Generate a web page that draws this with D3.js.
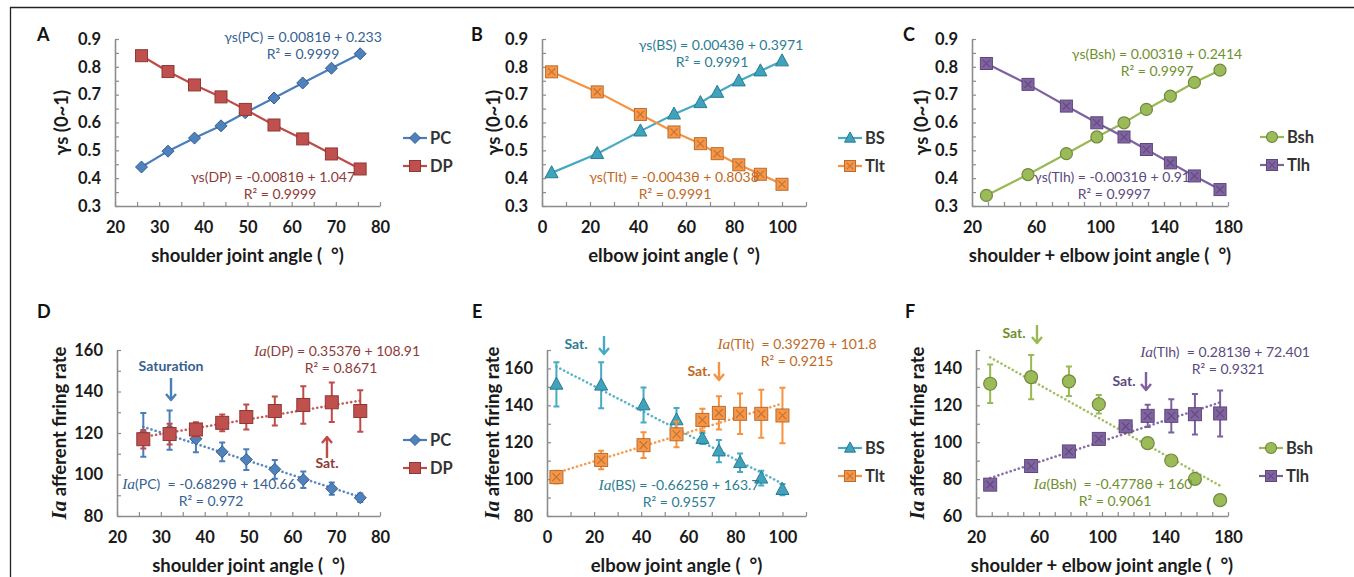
<!DOCTYPE html>
<html><head><meta charset="utf-8">
<script src="https://cdn.jsdelivr.net/npm/d3@7"></script>
<style>
body{margin:0;background:#fff;}
svg{display:block;}
text{font-family:Lato,"Open Sans",sans-serif;}
</style></head><body>
<svg id="c" width="1354" height="577"></svg>
<script>
// ---------- data ----------
const xA = [26, 32, 38, 44, 49.5, 56, 62.5, 69, 75.5];
const ysPC = [0.440, 0.497, 0.544, 0.588, 0.635, 0.688, 0.742, 0.795, 0.847];
const ysDP = [0.840, 0.783, 0.735, 0.692, 0.647, 0.591, 0.541, 0.487, 0.433];

const xB = [4, 23, 41, 55, 66, 73, 82, 91, 100];
const ysBS = [0.419, 0.488, 0.569, 0.630, 0.671, 0.708, 0.749, 0.785, 0.821];
const ysTlt = [0.782, 0.710, 0.629, 0.566, 0.524, 0.488, 0.448, 0.414, 0.378];

const xC = [29, 55, 79, 98, 115, 129, 144, 159, 175];
const ysBsh = [0.338, 0.413, 0.488, 0.548, 0.599, 0.647, 0.695, 0.744, 0.788];
const ysTlh = [0.812, 0.737, 0.659, 0.599, 0.548, 0.503, 0.455, 0.408, 0.359];

const iaPC = [119.1, 121.4, 117.2, 110.9, 107.2, 102.5, 97.5, 93.2, 88.8];
const iaPCerr = [10.5, 9.5, 6.5, 4.5, 5, 4.5, 4, 3, 2];
const iaDP = [117, 119.5, 121.7, 124.9, 127.7, 130.6, 133.5, 134.8, 130.6];
const iaDPerr = [4.5, 5, 3.5, 4, 6, 7, 9, 9.5, 10];

const iaBS = [151.4, 150.9, 140.2, 132.1, 122, 115.2, 108.9, 100.5, 94.3];
const iaBSerr = [12, 12.5, 9.5, 6.5, 3, 6, 5, 4, 3];
const iaTlt = [101.1, 110.4, 118.4, 124.3, 132.1, 135.9, 135.4, 135.4, 134.5];
const iaTlterr = [3.5, 5, 7, 7, 6, 9, 11, 13, 15];

const iaBsh = [131.7, 135.3, 133, 120.6, 108.5, 99.5, 90.1, 80.1, 68.6];
const iaBsherr = [10.5, 12, 8, 5, 1.5, 1, 1, 1, 1];
const iaTlh = [77, 87.1, 95, 101.8, 108.6, 114.3, 114.3, 115.2, 115.6];
const iaTlherr = [1.5, 1.5, 2, 2, 3, 6, 9, 11, 12.5];

// trend line end points
const trendPC = [[26, 123], [76, 88.8]];
const trendDP = [[26, 118.1], [76, 135.8]];
const trendBS = [[4, 161], [100, 97.5]];
const trendTlt = [[4, 103.4], [100, 141]];
const trendBsh = [[29, 146], [175, 76.4]];
const trendTlh = [[29, 80.6], [175, 121.6]];

// tick labels
const xTicksShoulder = [20, 30, 40, 50, 60, 70, 80];
const xTicksElbow = [0, 20, 40, 60, 80, 100];
const xTicksSum = [20, 60, 100, 140, 180];
const yTicksGamma = [0.3, 0.4, 0.5, 0.6, 0.7, 0.8, 0.9];
const yTicksD = [80, 100, 120, 140, 160];
const yTicksE = [80, 100, 120, 140, 160];
const yTicksF = [60, 80, 100, 120, 140];

// ---------- styles ----------
const C = {
  PC: {fill: "#4f81bd", stroke: "#385d8a", line: "#4a7ebb", text: "#365f91"},
  DP: {fill: "#c0504d", stroke: "#8c3836", line: "#be4b48", text: "#8e3b39"},
  BS: {fill: "#3fa3bd", stroke: "#2c7a8f", line: "#46aac5", text: "#2c7d92"},
  Tlt: {fill: "#f79646", stroke: "#b66d31", line: "#f69240", text: "#c0691e"},
  Bsh: {fill: "#9bbb59", stroke: "#71893f", line: "#98b954", text: "#6f8f2e"},
  Tlh: {fill: "#8064a2", stroke: "#5c4776", line: "#7d60a0", text: "#5c4a7e"}
};

const svg = d3.select("#c");
svg.append("line").attr("x1", 10).attr("x2", 1354).attr("y1", 7.5).attr("y2", 7.5)
  .attr("stroke", "#222").attr("stroke-width", 1.3);
svg.append("line").attr("x1", 10.5).attr("x2", 10.5).attr("y1", 7).attr("y2", 577)
  .attr("stroke", "#222").attr("stroke-width", 1.3);

function drawMarker(g, type, cx, cy, s, col) {
  const fill = col.fill, stroke = col.stroke;
  if (type === "diamond") {
    g.append("path").attr("d", `M${cx},${cy - s}L${cx + s},${cy}L${cx},${cy + s}L${cx - s},${cy}Z`)
      .attr("fill", fill).attr("stroke", stroke).attr("stroke-width", 1);
  } else if (type === "square" || type === "squareX") {
    g.append("rect").attr("x", cx - s).attr("y", cy - s).attr("width", 2 * s).attr("height", 2 * s)
      .attr("fill", fill).attr("stroke", stroke).attr("stroke-width", 1);
    if (type === "squareX") {
      const k = s * 0.6;
      g.append("path").attr("d", `M${cx - k},${cy - k}L${cx + k},${cy + k}M${cx - k},${cy + k}L${cx + k},${cy - k}`)
        .attr("stroke", stroke).attr("stroke-width", 1.2).attr("opacity", 0.8);
    }
  } else if (type === "triangle") {
    g.append("path").attr("d", `M${cx},${cy - s * 1.1}L${cx + s},${cy + s * 0.75}L${cx - s},${cy + s * 0.75}Z`)
      .attr("fill", fill).attr("stroke", stroke).attr("stroke-width", 1);
  } else if (type === "circle") {
    g.append("circle").attr("cx", cx).attr("cy", cy).attr("r", s)
      .attr("fill", fill).attr("stroke", stroke).attr("stroke-width", 1.2);
  }
}

function range(a, b, step) {
  const n = Math.round((b - a) / step);
  return d3.range(n + 1).map(i => +(a + i * step).toFixed(6));
}

function panel(p) {
  const g = svg.append("g");
  const x = d3.scaleLinear().domain(p.xd).range([p.x0, p.x1]);
  const y = d3.scaleLinear().domain(p.yd).range([p.y0, p.y1]);

  // axes
  const xMinor = range(p.xd[0], p.xd[1], p.xStep);
  const yMinor = range(p.yd[0], p.yd[1], p.yStep);
  const isMajor = (arr, d) => arr.some(v => Math.abs(v - d) < 1e-6);
  const ax = g.append("g").attr("transform", `translate(0,${p.y0})`)
    .call(d3.axisBottom(x).tickValues(xMinor).tickSizeInner(-4).tickSizeOuter(0).tickPadding(15)
      .tickFormat(d => isMajor(p.xMajor, d) ? String(d) : ""));
  const ay = g.append("g").attr("transform", `translate(${p.x0},0)`)
    .call(d3.axisLeft(y).tickValues(yMinor).tickSizeInner(-4).tickSizeOuter(0).tickPadding(14)
      .tickFormat(d => isMajor(p.yMajor, d) ? p.yfmt(d) : ""));
  [ax, ay].forEach(a => {
    a.select(".domain").attr("stroke", "#8c8c8c").attr("stroke-width", 1.6);
    a.selectAll(".tick line").attr("stroke", "#8c8c8c").attr("stroke-width", 1.2);
    a.selectAll(".tick text").attr("fill", "#1a1a1a").attr("font-size", 16.5).attr("font-weight", 700)
      .attr("font-family", "Lato, sans-serif");
  });

  // axis titles
  g.append("text").attr("x", (p.x0 + p.x1) / 2).attr("y", p.y0 + 56).attr("text-anchor", "middle")
    .attr("font-size", 18.5).attr("font-weight", 700).attr("fill", "#1a1a1a")
    .style("white-space", "pre").text(p.xTitle);
  const yt = g.append("text").attr("transform", `translate(${p.yTitleX},${(p.y0 + p.y1) / 2}) rotate(-90)`)
    .attr("text-anchor", "middle").attr("font-size", 18.5).attr("font-weight", 700).attr("fill", "#1a1a1a")
    .attr("dy", "0.35em");
  if (p.gamma) {
    yt.text("γs (0~1)");
  } else {
    yt.append("tspan").attr("font-family", "Liberation Serif, serif").attr("font-style", "italic")
      .attr("font-weight", 700).attr("font-size", 21).text("Ia");
    yt.append("tspan").text(" afferent firing rate");
  }

  // panel letter
  g.append("text").attr("x", p.letter[0]).attr("y", p.letter[1]).attr("font-family", "Liberation Sans, Arial, sans-serif")
    .attr("font-weight", 700).attr("font-size", 18).attr("fill", "#111").text(p.id);

  // series
  p.series.forEach(s => {
    const col = C[s.name];
    if (s.trend) {
      g.append("line").attr("x1", x(s.trend[0][0])).attr("y1", y(s.trend[0][1]))
        .attr("x2", x(s.trend[1][0])).attr("y2", y(s.trend[1][1]))
        .attr("stroke", col.line).attr("stroke-width", 2.6).attr("stroke-linecap", "round")
        .attr("stroke-dasharray", "0.1,4.2").attr("opacity", 0.9);
    }
    if (s.solid) {
      g.append("path").attr("d", d3.line().x((d, i) => x(s.x[i])).y(d => y(d))(s.y))
        .attr("fill", "none").attr("stroke", col.line).attr("stroke-width", 2.2);
    }
    if (s.err) {
      s.y.forEach((v, i) => {
        const cx = x(s.x[i]);
        const top = y(v + s.err[i]), bot = y(v - s.err[i]);
        g.append("path").attr("d", `M${cx},${top}L${cx},${bot}M${cx - 3},${top}L${cx + 3},${top}M${cx - 3},${bot}L${cx + 3},${bot}`)
          .attr("stroke", col.line).attr("stroke-width", 2).attr("fill", "none");
      });
    }
    s.y.forEach((v, i) => drawMarker(g, s.marker, x(s.x[i]), y(v), s.size, col));
  });

  // legend
  p.series.forEach((s, i) => {
    const col = C[s.name];
    const ly = p.legendY[i];
    g.append("line").attr("x1", p.legendX).attr("x2", p.legendX + 24).attr("y1", ly).attr("y2", ly)
      .attr("stroke", col.line).attr("stroke-width", 2.2);
    drawMarker(g, s.marker, p.legendX + 12, ly, 5.5, col);
    g.append("text").attr("x", p.legendX + 27).attr("y", ly + 6).attr("font-size", 16.5).attr("font-weight", 700)
      .attr("fill", "#333").text(s.name);
  });

  // equations
  p.eqs.forEach(e => {
    const col = C[e.name];
    const t1 = g.append("text").attr("x", e.x).attr("y", e.y).attr("text-anchor", "middle")
      .attr("font-size", 14).attr("fill", col.text).style("white-space", "pre");
    if (e.ia) {
      t1.append("tspan").attr("font-family", "Liberation Serif, serif").attr("font-style", "italic").attr("font-size", 15.5).text("Ia");
      t1.append("tspan").text(e.t1);
    } else t1.text(e.t1);
    g.append("text").attr("x", e.x2).attr("y", e.y + 16.5).attr("text-anchor", "middle")
      .attr("font-size", 14).attr("fill", col.text).text(e.t2);
  });

  // saturation annotations
  (p.sats || []).forEach(a => {
    const col = C[a.name];
    g.append("text").attr("x", a.tx).attr("y", a.ty).attr("text-anchor", "middle").attr("font-size", 14)
      .attr("font-weight", 700).attr("fill", col.text).text(a.text);
    const hy = a.up ? a.ya : a.yb; // arrow head end
    const dir = a.up ? 1 : -1;
    g.append("path").attr("d", `M${a.ax},${a.ya}L${a.ax},${a.yb}M${a.ax - 5},${hy + dir * 6}L${a.ax},${hy}L${a.ax + 5},${hy + dir * 6}`)
      .attr("stroke", col.line).attr("stroke-width", 2.4).attr("fill", "none").attr("stroke-linejoin", "round");
  });
}

const fmt1 = d => d.toFixed(1);
const fmt0 = d => String(d);

panel({id: "A", letter: [37, 41], x0: 115, x1: 380, y0: 206, y1: 39, xd: [20, 80], yd: [0.3, 0.9],
  xStep: 5, yStep: 0.05, xMajor: xTicksShoulder, yMajor: yTicksGamma, yfmt: fmt1, gamma: true, yTitleX: 62,
  xTitle: "shoulder joint angle (  °)", legendX: 403, legendY: [138, 166],
  series: [
    {name: "PC", x: xA, y: ysPC, marker: "diamond", size: 6, solid: true},
    {name: "DP", x: xA, y: ysDP, marker: "square", size: 6, solid: true}],
  eqs: [
    {name: "PC", x: 303, x2: 303, y: 42, t1: "γs(PC) = 0.0081θ + 0.233", t2: "R² = 0.9999"},
    {name: "DP", x: 273, x2: 280, y: 182, t1: "γs(DP) = -0.0081θ + 1.047", t2: "R² = 0.9999"}]
});

panel({id: "B", letter: [471, 41], x0: 542, x1: 806, y0: 206, y1: 39, xd: [0, 110], yd: [0.3, 0.9],
  xStep: 10, yStep: 0.05, xMajor: xTicksElbow, yMajor: yTicksGamma, yfmt: fmt1, gamma: true, yTitleX: 494,
  xTitle: "elbow joint angle (  °)", legendX: 838, legendY: [138, 166],
  series: [
    {name: "BS", x: xB, y: ysBS, marker: "triangle", size: 6.5, solid: true},
    {name: "Tlt", x: xB, y: ysTlt, marker: "squareX", size: 6, solid: true}],
  eqs: [
    {name: "BS", x: 721, x2: 712, y: 50, t1: "γs(BS) = 0.0043θ + 0.3971", t2: "R² = 0.9991"},
    {name: "Tlt", x: 674, x2: 675, y: 182, t1: "γs(Tlt) = -0.0043θ + 0.8038", t2: "R² = 0.9991"}]
});

panel({id: "C", letter: [903, 41], x0: 972, x1: 1228, y0: 206, y1: 39, xd: [20, 180], yd: [0.3, 0.9],
  xStep: 10, yStep: 0.05, xMajor: xTicksSum, yMajor: yTicksGamma, yfmt: fmt1, gamma: true, yTitleX: 922,
  xTitle: "shoulder + elbow joint angle (  °)", legendX: 1260, legendY: [137, 165],
  series: [
    {name: "Bsh", x: xC, y: ysBsh, marker: "circle", size: 6, solid: true},
    {name: "Tlh", x: xC, y: ysTlh, marker: "squareX", size: 6, solid: true}],
  eqs: [
    {name: "Bsh", x: 1157, x2: 1157, y: 59, t1: "γs(Bsh) = 0.0031θ + 0.2414", t2: "R² = 0.9997"},
    {name: "Tlh", x: 1112, x2: 1114, y: 182, t1: "γs(Tlh) = -0.0031θ + 0.91", t2: "R² = 0.9997"}]
});

panel({id: "D", letter: [37, 318], x0: 117, x1: 380, y0: 516, y1: 350, xd: [20, 80], yd: [80, 160],
  xStep: 5, yStep: 10, xMajor: xTicksShoulder, yMajor: yTicksD, yfmt: fmt0, gamma: false, yTitleX: 60,
  xTitle: "shoulder joint angle (  °)", legendX: 403, legendY: [440, 468],
  series: [
    {name: "PC", x: xA, y: iaPC, err: iaPCerr, marker: "diamond", size: 6, trend: trendPC},
    {name: "DP", x: xA, y: iaDP, err: iaDPerr, marker: "square", size: 6.5, trend: trendDP}],
  eqs: [
    {name: "DP", ia: true, x: 337, x2: 341, y: 356, t1: "(DP) = 0.3537θ + 108.91", t2: "R² = 0.8671"},
    {name: "PC", ia: true, x: 209, x2: 211, y: 489, t1: "(PC)  = -0.6829θ + 140.66", t2: "R² = 0.972"}],
  sats: [
    {name: "PC", text: "Saturation", tx: 171, ty: 371, ax: 171, ya: 378, yb: 400, up: false},
    {name: "DP", text: "Sat.", tx: 327, ty: 468, ax: 327, ya: 437, yb: 458, up: true}]
});

panel({id: "E", letter: [472, 318], x0: 547, x1: 806, y0: 516, y1: 350, xd: [0, 110], yd: [80, 170],
  xStep: 10, yStep: 10, xMajor: xTicksElbow, yMajor: yTicksE, yfmt: fmt0, gamma: false, yTitleX: 493,
  xTitle: "elbow joint angle (  °)", legendX: 838, legendY: [448, 476],
  series: [
    {name: "BS", x: xB, y: iaBS, err: iaBSerr, marker: "triangle", size: 6.5, trend: trendBS},
    {name: "Tlt", x: xB, y: iaTlt, err: iaTlterr, marker: "squareX", size: 6.5, trend: trendTlt}],
  eqs: [
    {name: "Tlt", ia: true, x: 797, x2: 797, y: 349, t1: "(Tlt)  = 0.3927θ + 101.8", t2: "R² = 0.9215"},
    {name: "BS", ia: true, x: 679, x2: 679, y: 490, t1: "(BS) = -0.6625θ + 163.7", t2: "R² = 0.9557"}],
  sats: [
    {name: "BS", text: "Sat.", tx: 576, ty: 349, ax: 604, ya: 336, yb: 354, up: false},
    {name: "Tlt", text: "Sat.", tx: 699, ty: 376, ax: 719, ya: 362, yb: 380, up: false}]
});

panel({id: "F", letter: [905, 318], x0: 976, x1: 1228, y0: 516, y1: 350, xd: [20, 180], yd: [60, 150],
  xStep: 10, yStep: 10, xMajor: xTicksSum, yMajor: yTicksF, yfmt: fmt0, gamma: false, yTitleX: 918,
  xTitle: "shoulder + elbow joint angle (  °)", legendX: 1259, legendY: [448, 476],
  series: [
    {name: "Bsh", x: xC, y: iaBsh, err: iaBsherr, marker: "circle", size: 6.5, trend: trendBsh},
    {name: "Tlh", x: xC, y: iaTlh, err: iaTlherr, marker: "squareX", size: 6.5, trend: trendTlh}],
  eqs: [
    {name: "Tlh", ia: true, x: 1225, x2: 1228, y: 357, t1: "(Tlh)  = 0.2813θ + 72.401", t2: "R² = 0.9321"},
    {name: "Bsh", ia: true, x: 1113, x2: 1115, y: 489, t1: "(Bsh)  = -0.4778θ + 160", t2: "R² = 0.9061"}],
  sats: [
    {name: "Bsh", text: "Sat.", tx: 1014, ty: 338, ax: 1037, ya: 325, yb: 343, up: false},
    {name: "Tlh", text: "Sat.", tx: 1124, ty: 386, ax: 1146, ya: 372, yb: 390, up: false}]
});
</script>
</body></html>
